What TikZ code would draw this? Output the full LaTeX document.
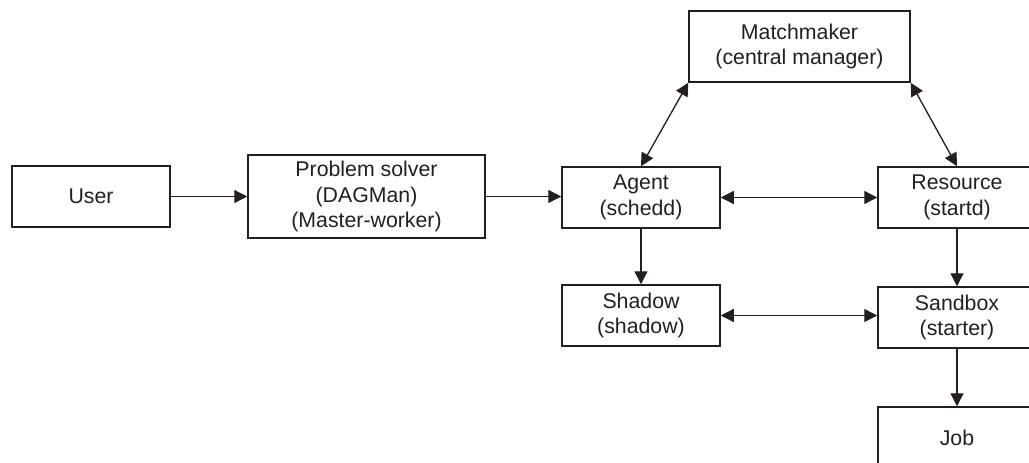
\documentclass[tikz,border=0pt]{standalone}
\usepackage{fontspec}
\setmainfont{Liberation Sans}
\usetikzlibrary{arrows.meta}
\definecolor{ink}{HTML}{231F20}
\tikzset{
  box/.style={draw=ink, line width=1.5pt, rectangle, inner sep=0pt, align=center,
    font=\fontsize{21.3}{25.8}\selectfont, text=ink},
  conn/.style={draw=ink, line width=1.3pt, -{Triangle[length=13pt,width=13pt]}},
  biconn/.style={draw=ink, line width=1.3pt, {Triangle[length=13pt,width=13pt]}-{Triangle[length=13pt,width=13pt]}}
}
\begin{document}
\begin{tikzpicture}[x=1pt,y=-1pt]
\useasboundingbox (0,0) rectangle (1029,463);
\clip (0,0) rectangle (1029,463);
\node[box, minimum width=158pt, minimum height=61pt] (user) at (91,196.5) {User};
\node[box, minimum width=237pt, minimum height=83pt] (ps) at (366.5,196.5) {Problem solver\\(DAGMan)\\(Master-worker)};
\node[box, minimum width=158pt, minimum height=61pt] (agent) at (641,197.5) {Agent\\(schedd)};
\node[box, minimum width=221pt, minimum height=71pt] (mm) at (799.5,46.5) {Matchmaker\\(central manager)};
\node[box, minimum width=158pt, minimum height=61pt] (res) at (957,197.5) {Resource\\(startd)};
\node[box, minimum width=158pt, minimum height=61pt] (shadow) at (641,315.5) {Shadow\\(shadow)};
\node[box, minimum width=158pt, minimum height=61pt] (sandbox) at (957,317.5) {Sandbox\\(starter)};
\node[box, minimum width=158pt, minimum height=61pt] (job) at (957,437.5) {Job};
\draw[conn] (user.east) -- (user.east -| ps.west);
\draw[conn] (ps.east) -- (ps.east -| agent.west);
\draw[biconn] (mm.south west) -- (agent.north);
\draw[biconn] (mm.south east) -- (res.north);
\draw[biconn] (agent.east) -- (agent.east -| res.west);
\draw[conn] (agent.south) -- (shadow.north);
\draw[conn] (res.south) -- (sandbox.north);
\draw[biconn] (shadow.east) -- (shadow.east -| sandbox.west);
\draw[conn] (sandbox.south) -- (job.north);
\end{tikzpicture}
\end{document}
